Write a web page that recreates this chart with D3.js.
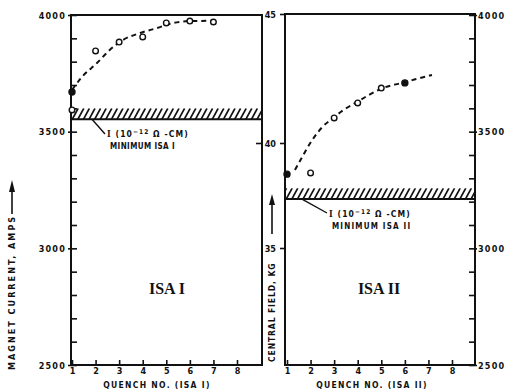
<!DOCTYPE html>
<html><head><meta charset="utf-8">
<script src="https://cdn.jsdelivr.net/npm/d3@7/dist/d3.min.js"></script>
<style>
body{margin:0;background:#fff}
text{font-family:"DejaVu Sans Condensed","DejaVu Sans",sans-serif;font-weight:bold;fill:#111}
</style>
</head><body><svg id="c" width="509" height="392"></svg>
<script>
// ---- data ----
const quenchTicks = [1,2,3,4,5,6,7,8];
const ampTicks = [2500,3000,3500,4000];
const ampMinorTicks = d3.range(2500, 4001, 100);
const fieldTicks = [35,40,45];
const fieldTickPos = [248,143,14]; // field axis is drawn non-uniformly in the original

const isa1Quench = [1,1,2,3,4,5,6,7];
const isa1Amps   = [3670,3593,3846,3884,3906,3966,3974,3970];
const isa1Filled = [true,false,false,false,false,false,false,false];
const isa1CurveQ    = [1,1.42,2.06,2.6,3.16,3.9,4.6,5.3,6,6.7,7];
const isa1CurveAmps = [3679,3734,3794,3850,3893,3923,3944,3966,3974,3975,3976];

const isa2Quench = [1,2,3,4,5,6];
const isa2Amps   = [3318,3323,3559,3623,3687,3709];
const isa2Filled = [true,false,false,false,false,true];
const isa2CurveQ    = [1.34,1.64,2.07,2.5,2.96,3.4,3.9,4.47,5.07,5.5,5.9,6.5,7.15];
const isa2CurveAmps = [3336,3391,3464,3520,3559,3593,3623,3657,3687,3700,3709,3726,3743];

const isa1Band = [3553,3600];
const isa2Band = [3211,3258];

// ---- layout ----
const svg = d3.select("#c");
const y = d3.scaleLinear().domain([2500,4000]).range([365,15]);
const yField = d3.scaleLinear().domain([35,40,45]).range(fieldTickPos);
const x1 = d3.scaleLinear().domain([1,8]).range([72,237]);
const x2 = d3.scaleLinear().domain([1,8]).range([287,452]);
const P1 = {l:71, r:262, t:15, b:365};
const P2 = {l:285, r:475, t:14, b:365};

function box(p){
  svg.append("rect").attr("x",p.l).attr("y",p.t).attr("width",p.r-p.l).attr("height",p.b-p.t)
    .attr("fill","none").attr("stroke","#111").attr("stroke-width",2);
}
box(P1); box(P2);

function clean(g){ g.select(".domain").remove(); g.selectAll("line").attr("stroke","#111").attr("stroke-width",1.6); }

// left panel amp axis
svg.append("g").attr("transform",`translate(${P1.l},0)`)
  .call(d3.axisRight(y).tickValues(ampMinorTicks).tickSize(6).tickFormat("")).call(clean);
svg.append("g").attr("transform",`translate(${P1.l},0)`)
  .call(d3.axisLeft(y).tickValues(ampTicks).tickSize(3).tickPadding(2).tickFormat(d3.format("d"))).call(clean)
  .selectAll("text").style("font-size","9px").style("letter-spacing","1.2px").attr("dy","0.35em");

// right panel right amp axis
svg.append("g").attr("transform",`translate(${P2.r},0)`)
  .call(d3.axisLeft(y).tickValues(ampMinorTicks).tickSize(6).tickFormat("")).call(clean);
svg.append("g").attr("transform",`translate(${P2.r},0)`)
  .call(d3.axisRight(y).tickValues(ampTicks).tickSize(2).tickPadding(1).tickFormat(d3.format("d"))).call(clean)
  .selectAll("text").style("font-size","9px").style("letter-spacing","1.2px").attr("dy","0.35em");

// central field axis (between panels)
const fg = svg.append("g").attr("transform",`translate(${P2.l},0)`)
  .call(d3.axisLeft(yField).tickValues(fieldTicks).tickSize(5).tickPadding(4).tickFormat(d3.format("d"))).call(clean);
fg.selectAll("text").style("font-size","9px").attr("dy","0.35em");
svg.append("g").attr("transform",`translate(${P1.r},0)`)
  .call(d3.axisRight(yField).tickValues([40]).tickSize(-6).tickFormat("")).call(clean);

// x axes
function xAxis(x, p){
  svg.append("g").attr("transform",`translate(0,${p.b})`)
    .call(d3.axisTop(x).tickValues(quenchTicks).tickSize(5).tickFormat("")).call(clean);
  svg.append("g").attr("transform",`translate(0,${p.b})`)
    .call(d3.axisBottom(x).tickValues(quenchTicks).tickSize(0).tickPadding(3).tickFormat(d3.format("d"))).call(clean)
    .selectAll("text").style("font-size","9px");
}
xAxis(x1,P1); xAxis(x2,P2);

// hatched bands
function band(p, b, id){
  const yt = y(b[1]), yb = y(b[0]);
  svg.append("clipPath").attr("id",id).append("rect")
    .attr("x",p.l).attr("y",yt).attr("width",p.r-p.l).attr("height",yb-yt);
  const g = svg.append("g").attr("clip-path",`url(#${id})`);
  g.selectAll("line").data(d3.range(p.l-10, p.r+10, 5.6)).join("line")
    .attr("x1",d=>d).attr("y1",yb).attr("x2",d=>d+6).attr("y2",yt)
    .attr("stroke","#111").attr("stroke-width",1.7);
  svg.append("line").attr("x1",p.l).attr("x2",p.r).attr("y1",yb).attr("y2",yb)
    .attr("stroke","#111").attr("stroke-width",2);
}
band(P1, isa1Band, "b1"); band(P2, isa2Band, "b2");

// dashed curves
function curve(x, qs, as){
  svg.append("path").datum(qs.map((q,i)=>[q,as[i]]))
    .attr("d", d3.line().x(d=>x(d[0])).y(d=>y(d[1])).curve(d3.curveMonotoneX))
    .attr("fill","none").attr("stroke","#111").attr("stroke-width",2).attr("stroke-dasharray","5,4");
}
curve(x1, isa1CurveQ, isa1CurveAmps);
curve(x2, isa2CurveQ, isa2CurveAmps);

// points
function pts(x, qs, as, filled){
  svg.append("g").selectAll("circle").data(qs.map((q,i)=>({q, a:as[i], f:filled[i]}))).join("circle")
    .attr("cx",d=>x(d.q)).attr("cy",d=>y(d.a)).attr("r",d=>d.f?3:2.8)
    .attr("fill",d=>d.f?"#111":"#fff").attr("stroke","#111").attr("stroke-width",1.4);
}
pts(x1, isa1Quench, isa1Amps, isa1Filled);
pts(x2, isa2Quench, isa2Amps, isa2Filled);

// band annotations
function annot(x0,y0,x1a,y1a,tx,ty,line2,ls2){
  svg.append("line").attr("x1",x0).attr("y1",y0).attr("x2",x1a).attr("y2",y1a)
    .attr("stroke","#111").attr("stroke-width",1.4);
  const t = svg.append("text").attr("x",tx).attr("y",ty).style("font-size","8.5px").style("letter-spacing","1.1px");
  t.append("tspan").style("font-family","'Liberation Serif','DejaVu Serif',serif").style("font-size","9.5px").text("I");
  t.append("tspan").text(" (10");
  t.append("tspan").attr("dy",-3).style("font-size","6.5px").text("−12");
  t.append("tspan").attr("dy",3).text(" Ω -CM)");
  svg.append("text").attr("x",tx+3).attr("y",ty+12).style("font-size","8px").style("letter-spacing",ls2).text(line2);
}
annot(92,y(isa1Band[0]),105,134,107,137,"MINIMUM ISA I","0.4px");
annot(302,y(isa2Band[0]),327,213,329,217,"MINIMUM ISA II","1.2px");

// panel titles
svg.append("text").attr("x",167).attr("y",294).attr("text-anchor","middle")
  .style("font-family","'Liberation Serif','DejaVu Serif',serif").style("font-size","16px").text("ISA I");
svg.append("text").attr("x",379).attr("y",294).attr("text-anchor","middle")
  .style("font-family","'Liberation Serif','DejaVu Serif',serif").style("font-size","16px").text("ISA II");

// axis titles
svg.append("text").attr("x",157).attr("y",388).attr("text-anchor","middle")
  .style("font-size","8.5px").style("letter-spacing","1.3px").text("QUENCH NO. (ISA I)");
svg.append("text").attr("x",372).attr("y",388).attr("text-anchor","middle")
  .style("font-size","8.5px").style("letter-spacing","1.3px").text("QUENCH NO. (ISA II)");

svg.append("text").attr("transform","translate(15,370) rotate(-90)")
  .style("font-size","9px").style("letter-spacing","2px").text("MAGNET CURRENT, AMPS");
svg.append("line").attr("x1",12).attr("x2",12).attr("y1",214).attr("y2",188)
  .attr("stroke","#111").attr("stroke-width",1.6);
svg.append("path").attr("d","M12,180 L9,192 L15,192 Z").attr("fill","#111");

svg.append("text").attr("transform","translate(275,362) rotate(-90)")
  .style("font-size","8.5px").style("letter-spacing","0.9px").text("CENTRAL FIELD, KG");
svg.append("line").attr("x1",272).attr("x2",272).attr("y1",234).attr("y2",202)
  .attr("stroke","#111").attr("stroke-width",1.6);
svg.append("path").attr("d","M272,194 L269,205 L275,205 Z").attr("fill","#111");
</script></body></html>
